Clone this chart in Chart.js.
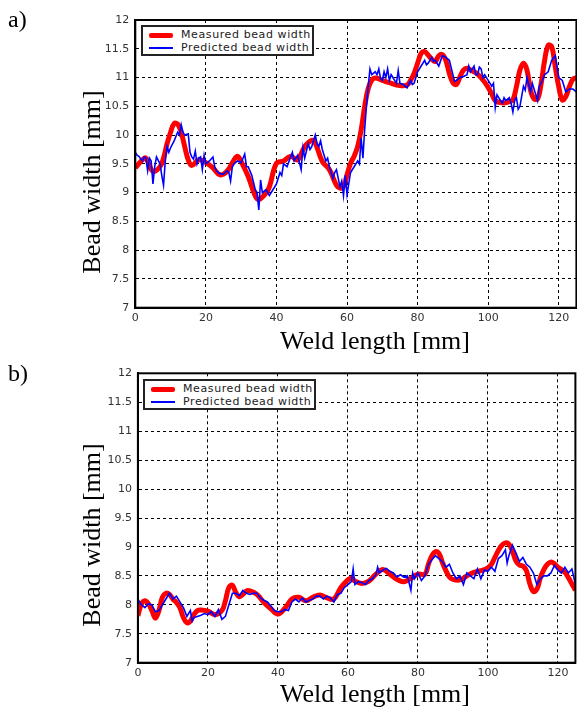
<!DOCTYPE html>
<html>
<head>
<meta charset="utf-8">
<script src="https://cdn.jsdelivr.net/npm/chart.js@4.4.1/dist/chart.umd.min.js"></script>
<style>
    body { margin: 0; background: #fff; }
    #page { position: relative; width: 577px; height: 707px; overflow: hidden; }
    .box { position: absolute; left: 0; width: 577px; }
    .serif { position: absolute; font-family: "Liberation Serif", "Times New Roman", serif; color: #000; white-space: nowrap; }
    .ytitle { font-size: 26px; transform: translate(-50%, -50%) rotate(-90deg); }
    .xtitle { font-size: 26px; transform: translate(-50%, -50%); }
    .panel { font-size: 24px; }
    .legend { position: absolute; border: 2px solid #222; background: #fff; box-sizing: border-box;
              font-family: "DejaVu Sans", sans-serif; font-size: 11px; letter-spacing: 0.6px; color: #222; }
    .legend .row { position: absolute; left: 0; height: 14px; line-height: 14px; white-space: nowrap; }
    .legend .sw { position: absolute; left: 6px; width: 24px; }
    .legend .txt { position: absolute; left: 38px; white-space: nowrap; }
</style>
</head>
<body>
<div id="page">
    <div class="box" id="boxA" style="top:0;height:355px"><canvas id="chartA"></canvas></div>
    <div class="box" id="boxB" style="top:355px;height:352px"><canvas id="chartB"></canvas></div>

    <div class="serif panel" style="left:8px;top:6px">a)</div>
    <div class="serif panel" style="left:8px;top:360px">b)</div>
    <div class="serif ytitle" style="left:92px;top:182px">Bead width [mm]</div>
    <div class="serif ytitle" style="left:92px;top:535px">Bead width [mm]</div>
    <div class="serif xtitle" style="left:375px;top:341px">Weld length [mm]</div>
    <div class="serif xtitle" style="left:375px;top:694px">Weld length [mm]</div>

    <div class="legend" style="left:141px;top:25px;width:173px;height:31px">
        <div class="row" style="top:1px"><div class="sw" style="top:5px;height:5px;background:#f00;border-radius:2px"></div><div class="txt">Measured bead width</div></div>
        <div class="row" style="top:14px"><div class="sw" style="top:6px;height:2px;background:#00f"></div><div class="txt">Predicted bead width</div></div>
    </div>
    <div class="legend" style="left:143px;top:379px;width:173px;height:31px">
        <div class="row" style="top:1px"><div class="sw" style="top:5px;height:5px;background:#f00;border-radius:2px"></div><div class="txt">Measured bead width</div></div>
        <div class="row" style="top:14px"><div class="sw" style="top:6px;height:2px;background:#00f"></div><div class="txt">Predicted bead width</div></div>
    </div>
</div>

<script>
"use strict"

//dati: [lunghezza mm, larghezza mm]
const xTicks = [0, 20, 40, 60, 80, 100, 120];
const yTicks = [7, 7.5, 8, 8.5, 9, 9.5, 10, 10.5, 11, 11.5, 12];

const measuredA = [[0,9.43],[2,9.57],[3,9.6],[5,9.37],[7,9.45],[8,9.6],[9,9.85],[10,10.05],[11,10.2],[12,10.19],
    [13,10.05],[14,9.8],[15,9.57],[16,9.47],[18,9.57],[20,9.52],[22,9.43],[24,9.31],[26,9.37],[28,9.57],
    [29,9.63],[30,9.54],[32,9.28],[34,8.94],[35,8.88],[37,8.99],[38,9.1],[40,9.51],[42,9.55],[44,9.63],
    [46,9.57],[48,9.8],[50,9.91],[51,9.86],[53,9.54],[55,9.4],[57,9.13],[58,9.08],[59,9.1],[60,9.31],
    [61,9.51],[62,9.63],[63,9.8],[64,10.09],[65,10.5],[66,10.81],[67,10.95],[68,10.99],[70,10.95],[72,10.91],
    [75,10.86],[77,10.87],[78,10.95],[79,11.07],[80,11.25],[81,11.42],[82,11.45],[83,11.39],[84,11.32],[85,11.28],
    [86,11.38],[87,11.4],[88,11.3],[89,11.07],[90,10.91],[91,10.88],[92,11.01],[93,11.13],[94,11.16],[95,11.13],
    [97,11.06],[99,10.92],[101,10.72],[102,10.6],[104,10.56],[106,10.58],[107,10.61],[108,10.84],[109,11.13],[110,11.25],
    [111,11.13],[112,10.78],[113,10.63],[114,10.63],[115,10.89],[116,11.3],[117,11.56],[118,11.54],[119,11.19],[120,10.84],
    [121,10.61],[122,10.67],[123,10.84],[124,10.97],[125,11.0]];

const predictedA = [[0,9.7],[0.5,9.65],[1,9.63],[2,9.55],[2.5,9.62],[3,9.6],[3.5,9.38],[4,9.6],[4.5,9.55],[5,9.15],
    [5.5,9.45],[6,9.62],[7,9.5],[7.5,9.3],[8,9.13],[8.5,9.55],[9,9.8],[9.5,9.7],[10,9.78],[11,9.9],
    [12,10.05],[12.5,10.0],[13,10.18],[13.5,10.05],[14,10.0],[15,10.02],[15.5,9.7],[16,9.62],[16.5,9.58],[17,9.72],
    [17.5,9.5],[18,9.6],[18.5,9.62],[19,9.4],[19.5,9.65],[20,9.5],[21,9.55],[22,9.62],[22.5,9.45],[23,9.38],
    [24,9.33],[25,9.32],[26,9.38],[26.5,9.35],[27,9.2],[27.5,9.45],[28,9.5],[29,9.55],[30,9.52],[31,9.67],
    [31.5,9.45],[32,9.45],[33,9.3],[34,9.05],[34.5,9.0],[35,8.7],[35.5,9.22],[36,9.0],[37,9.05],[37.5,9.0],
    [38,8.95],[39,9.05],[40,9.15],[41,9.35],[41.5,9.3],[42,9.5],[43,9.45],[44,9.62],[44.5,9.7],[45,9.55],
    [46,9.65],[47,9.4],[47.5,9.78],[48,9.6],[49,9.85],[49.5,9.75],[50,9.8],[51,10.0],[51.5,9.85],[52,9.8],
    [52.5,9.9],[53,9.75],[54,9.55],[54.5,9.6],[55,9.45],[56,9.25],[56.5,9.35],[57,9.4],[58,9.1],[58.5,9.2],
    [59,8.95],[59.5,9.3],[60,8.97],[61,9.35],[62,9.45],[63,9.55],[63.5,9.5],[64,9.95],[64.5,9.6],[65,10.1],
    [65.5,10.5],[66,10.85],[66.5,11.15],[67,11.05],[68,11.1],[68.5,11.05],[69,11.15],[69.5,10.98],[70,10.95],[70.5,11.1],
    [71,11.0],[71.5,11.15],[72,10.95],[72.5,11.05],[73,11.0],[74,10.9],[74.5,11.12],[75,10.9],[76,10.88],[76.5,10.85],
    [77,10.82],[78,10.95],[78.5,10.88],[79,10.9],[80,11.1],[81,11.2],[82,11.3],[82.5,11.22],[83,11.25],[84,11.35],
    [84.5,11.28],[85,11.3],[86,11.2],[87,11.38],[88,11.35],[89,11.3],[90,11.05],[90.5,10.93],[91,10.95],[92,11.0],
    [93,11.02],[94,11.05],[94.5,11.2],[95,11.1],[96,11.2],[96.5,11.05],[97,11.05],[97.5,11.18],[98,11.15],[98.5,11.0],
    [99,11.05],[100,10.95],[101,10.85],[101.5,10.9],[102,10.48],[102.5,10.7],[103,10.65],[104,10.55],[104.5,10.65],[105,10.6],
    [106,10.65],[106.5,10.55],[107,10.4],[107.5,10.6],[108,10.65],[108.5,10.45],[109,10.5],[110,10.85],[110.5,10.78],[111,11.0],
    [112,10.75],[112.5,10.9],[113,10.8],[114,10.6],[114.5,10.85],[115,10.9],[116,11.05],[117,11.1],[118,11.3],[119,11.38],
    [119.5,11.2],[120,11.0],[121,10.95],[122,10.75],[123,10.8],[124,10.8],[125,10.75]];

const measuredB = [[0,7.81],[1,8.01],[2,8.07],[3,8.02],[4,7.9],[5,7.77],[6,7.9],[7,8.13],[8,8.2],[9,8.18],
    [10,8.1],[11,8.04],[12,7.95],[13,7.78],[14,7.69],[15,7.72],[16,7.83],[17,7.9],[18,7.91],[20,7.89],
    [22,7.83],[24,7.9],[25,8.07],[26,8.3],[27,8.34],[28,8.21],[29,8.14],[30,8.18],[31,8.24],[32,8.24],
    [34,8.18],[36,8.04],[38,7.93],[40,7.84],[42,7.94],[44,8.1],[46,8.13],[48,8.07],[50,8.13],[52,8.17],
    [54,8.12],[56,8.1],[58,8.3],[60,8.43],[61,8.46],[62,8.41],[64,8.37],[66,8.41],[68,8.53],[70,8.61],
    [72,8.53],[74,8.44],[76,8.4],[78,8.46],[80,8.53],[82,8.53],[83,8.7],[84,8.85],[85,8.92],[86,8.89],
    [87,8.73],[88,8.59],[89,8.48],[90,8.44],[92,8.43],[94,8.5],[96,8.56],[98,8.59],[100,8.64],[101,8.7],
    [102,8.82],[103,8.94],[104,9.03],[105,9.07],[106,9.05],[107,8.93],[108,8.76],[109,8.69],[110,8.67],[111,8.59],
    [112,8.36],[113,8.23],[114,8.27],[115,8.47],[116,8.61],[117,8.7],[118,8.74],[119,8.71],[120,8.65],[121,8.61],
    [122,8.56],[123,8.47],[124,8.36],[125,8.25]];

const predictedB = [[0,8.1],[1,8.0],[2,7.95],[3,8.02],[4,8.0],[5,7.88],[6,7.9],[7,8.0],[8,8.1],[9,8.2],
    [10,8.1],[11,8.15],[12,8.05],[13,7.95],[14,7.8],[15,7.9],[15.5,7.72],[16,7.78],[17,7.8],[18,7.82],
    [19,7.85],[20,7.83],[21,7.88],[22,7.8],[23,7.92],[24,7.75],[25,7.8],[26,8.0],[27,8.2],[28,8.2],
    [29,8.16],[30,8.25],[31,8.2],[32,8.18],[33,8.2],[34,8.2],[35,8.12],[36,8.08],[37,8.05],[38,7.98],
    [39,7.9],[40,7.88],[41,7.88],[42,7.92],[43,7.9],[44,8.05],[45,8.1],[46,8.05],[47,8.12],[48,8.05],
    [49,8.08],[50,8.1],[51,8.15],[52,8.15],[53,8.1],[54,8.15],[55,8.12],[56,8.05],[57,8.18],[58,8.2],
    [59,8.3],[60,8.35],[61,8.4],[61.5,8.62],[62,8.35],[63,8.4],[64,8.38],[65,8.35],[66,8.42],[67,8.45],
    [68,8.52],[68.5,8.65],[69,8.55],[70,8.6],[71,8.63],[72,8.58],[73,8.55],[74,8.48],[75,8.52],[76,8.48],
    [77,8.5],[78,8.25],[78.5,8.55],[79,8.45],[80,8.55],[81,8.42],[82,8.5],[83,8.7],[84,8.78],[85,8.85],
    [86,8.8],[87,8.75],[88,8.65],[89,8.7],[90,8.55],[91,8.45],[92,8.5],[93,8.35],[94,8.55],[95,8.5],
    [96,8.45],[97,8.62],[98,8.45],[99,8.6],[100,8.58],[101,8.65],[102,8.58],[103,8.8],[104,8.85],[105,8.95],
    [105.5,8.72],[106,8.85],[107,9.03],[108,8.9],[109,8.75],[110,8.82],[111,8.7],[112,8.65],[113,8.55],[114,8.35],
    [115,8.45],[116,8.5],[117,8.5],[118,8.55],[119,8.68],[120,8.6],[121,8.55],[122,8.65],[123,8.55],[124,8.62],
    [125,8.35]];

//cornice nera attorno all'area del grafico
const frame = {
    id: "frame",
    afterDatasetsDraw(chart) {
        const a = chart.chartArea;
        const ctx = chart.ctx;
        ctx.save();
        ctx.strokeStyle = "#000";
        ctx.lineWidth = 2;
        ctx.strokeRect(a.left, a.top, a.right - a.left, a.bottom - a.top);
        ctx.restore();
    }
};

function punti(lista) {
    return lista.map(p => ({ x: p[0], y: p[1] }));
}

function creaChart(id, measured, predicted, box) {
    const tickFont = { family: "DejaVu Sans", size: 11 };
    return new Chart(document.getElementById(id), {
        type: "line",
        data: {
            datasets: [{
                label: "Measured bead width",
                data: punti(measured),
                borderColor: "#ff0000",
                borderWidth: 5,
                tension: 0.4,
                pointRadius: 0,
                order: 2
            },
            {
                label: "Predicted bead width",
                data: punti(predicted),
                borderColor: "#0000ff",
                borderWidth: 1.6,
                tension: 0,
                pointRadius: 0,
                order: 1
            }]
        },
        options: {
            responsive: true,
            maintainAspectRatio: false,
            animation: false,
            layout: { padding: { left: 0, top: box.top, right: box.right, bottom: 0 } },
            plugins: { legend: { display: false }, tooltip: { enabled: false } },
            scales: {
                x: {
                    type: "linear",
                    min: 0,
                    max: 125,
                    afterFit: s => { s.height = box.xh; },
                    afterBuildTicks: s => { s.ticks = xTicks.map(v => ({ value: v })); },
                    ticks: { font: tickFont, color: "#333", padding: 4, maxRotation: 0, callback: v => String(v) },
                    grid: { color: "#000", lineWidth: 1, drawTicks: false },
                    border: { color: "#000", width: 2, dash: [3, 3] }
                },
                y: {
                    min: 7,
                    max: 12,
                    afterFit: s => { s.width = box.yw; },
                    afterBuildTicks: s => { s.ticks = yTicks.map(v => ({ value: v })); },
                    ticks: { font: tickFont, color: "#333", padding: 6, callback: v => String(v) },
                    grid: { color: "#000", lineWidth: 1, drawTicks: false },
                    border: { color: "#000", width: 2, dash: [3, 3] }
                }
            }
        },
        plugins: [frame]
    });
}

creaChart("chartA", measuredA, predictedA, { top: 20, right: 0.6, xh: 47.3, yw: 135.3 });
creaChart("chartB", measuredB, predictedB, { top: 18.3, right: 1.6, xh: 44.3, yw: 137.9 });
</script>
</body>
</html>
